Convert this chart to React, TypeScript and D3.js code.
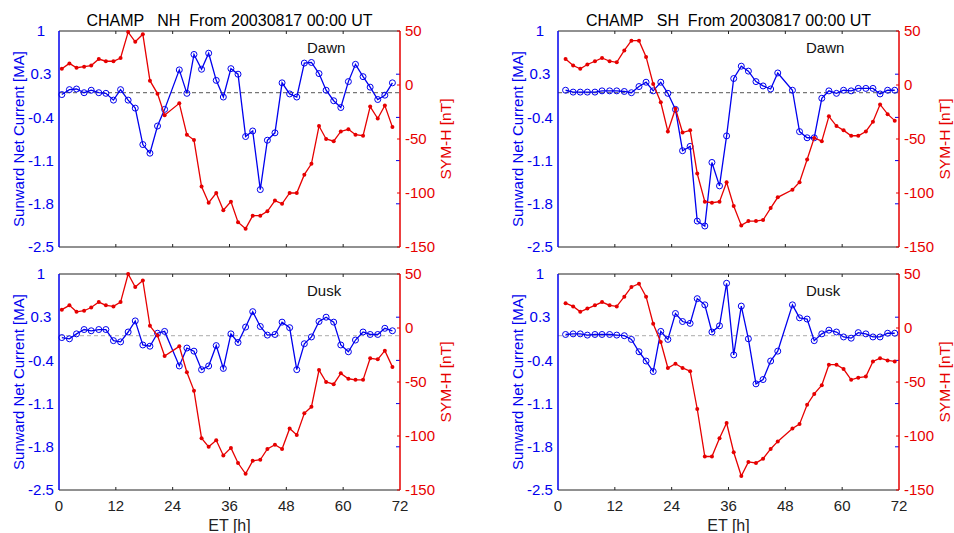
import React from "react";
import * as d3 from "d3";

// orbit times (hours after 2003-08-17 00:00 UT), one gap each hemisphere
const nhTime = [0.6, 2.2, 3.7, 5.3, 6.8, 8.4, 9.9, 11.5, 13.0, 14.6, 16.1, 17.7, 19.2, 20.8, 22.3, 25.4, 27.0, 28.5, 30.1, 31.6, 33.2, 34.7, 36.3, 37.8, 39.4, 40.9, 42.5, 44.0, 45.6, 47.1, 48.7, 50.2, 51.8, 53.3, 54.9, 56.4, 58.0, 59.5, 61.1, 62.6, 64.2, 65.7, 67.3, 68.8, 70.4];
const shTime = [1.6, 3.2, 4.7, 6.2, 7.8, 9.3, 10.9, 12.4, 14.0, 15.5, 17.1, 18.6, 20.1, 21.7, 23.2, 24.8, 26.3, 27.9, 29.4, 31.0, 32.5, 34.1, 35.6, 37.1, 38.7, 40.2, 41.8, 43.3, 44.9, 46.4, 49.5, 51.0, 52.6, 54.1, 55.7, 57.2, 58.8, 60.3, 61.9, 63.4, 65.0, 66.5, 68.0, 69.6, 71.1];

const nhDawnCurrent = [-0.03, 0.05, 0.06, 0.0, 0.04, 0.0, -0.01, -0.12, 0.05, -0.12, -0.25, -0.84, -0.98, -0.54, -0.27, 0.37, -0.01, 0.62, 0.38, 0.64, 0.2, -0.07, 0.39, 0.3, -0.71, -0.62, -1.57, -0.77, -0.65, 0.16, -0.02, -0.07, 0.48, 0.49, 0.31, 0.04, -0.13, -0.24, 0.18, 0.46, 0.26, 0.09, -0.11, -0.04, 0.16];
const nhDawnSymH = [15, 20, 16, 17, 18, 24, 22, 22, 25, 49, 40, 47, 4, -8, -28, -17, -46, -51, -94, -109, -100, -116, -108, -127, -133, -121, -121, -117, -107, -110, -100, -100, -83, -73, -38, -50, -52, -43, -41, -46, -47, -20, -31, -19, -39];

const nhDuskCurrent = [-0.03, -0.05, 0.03, 0.1, 0.08, 0.1, 0.1, -0.08, -0.1, 0.06, 0.24, -0.15, -0.17, 0.04, 0.07, -0.49, -0.2, -0.25, -0.55, -0.49, -0.16, -0.53, 0.03, -0.11, 0.14, 0.39, 0.15, 0.01, 0.02, 0.22, 0.13, -0.55, -0.13, -0.02, 0.23, 0.3, 0.22, -0.15, -0.26, -0.07, 0.06, 0.02, 0.02, 0.12, 0.08];
const nhDuskSymH = [17, 21, 15, 16, 19, 24, 21, 20, 24, 50, 38, 44, 2, -7, -26, -17, -41, -58, -102, -110, -104, -118, -111, -125, -135, -123, -122, -112, -108, -112, -93, -99, -79, -73, -39, -50, -52, -42, -47, -48, -48, -28, -29, -21, -36];

const shDawnCurrent = [0.04, 0.01, 0.01, 0.01, 0.01, 0.03, 0.03, 0.03, 0.02, 0.0, 0.1, 0.17, 0.03, 0.17, -0.01, -0.27, -0.94, -0.87, -2.08, -2.16, -1.13, -1.51, -0.7, 0.23, 0.43, 0.35, 0.18, 0.11, 0.06, 0.32, 0.04, -0.63, -0.73, -0.73, -0.09, 0.03, -0.01, 0.04, 0.03, 0.07, 0.07, 0.07, -0.02, 0.04, 0.04];
const shDawnSymH = [24, 18, 15, 19, 22, 25, 22, 21, 32, 41, 41, 26, 1, -16, -43, -22, -44, -42, -82, -108, -109, -108, -90, -112, -130, -126, -126, -125, -114, -104, -97, -90, -69, -49, -52, -29, -38, -42, -47, -47, -43, -34, -18, -27, -33];

const shDuskCurrent = [0.02, 0.03, 0.03, 0.01, 0.02, 0.02, 0.02, 0.01, 0.0, -0.06, -0.26, -0.41, -0.58, 0.07, -0.06, 0.36, 0.23, 0.2, 0.6, 0.5, 0.06, 0.16, 0.85, -0.31, 0.48, -0.05, -0.78, -0.71, -0.41, -0.25, 0.5, 0.29, 0.27, -0.08, 0.03, 0.09, 0.06, -0.02, -0.04, 0.05, 0.03, -0.02, -0.02, 0.04, 0.04];
const shDuskSymH = [23, 20, 15, 18, 21, 24, 21, 20, 29, 38, 41, 29, 4, -13, -37, -33, -37, -40, -75, -119, -119, -102, -88, -115, -137, -124, -125, -121, -112, -105, -93, -89, -71, -61, -53, -34, -34, -38, -48, -46, -45, -31, -28, -30, -31];

const currentTicks = [1, 0.3, -0.4, -1.1, -1.8, -2.5];
const symhTicks = [50, 0, -50, -100, -150];
const etTicks = [0, 12, 24, 36, 48, 60, 72];

const BLUE = "#0000ee";
const RED = "#e60000";
const FONT = "'Liberation Sans', Arial, sans-serif";

type PanelProps = {
  time: number[];
  current: number[];
  symh: number[];
  x0: number;
  x1: number;
  y0: number;
  y1: number;
  title?: string;
  tag: string;
  bottom: boolean;
};

function Panel({ time, current, symh, x0, x1, y0, y1, title, tag, bottom }: PanelProps) {
  const x = d3.scaleLinear().domain([0, 72]).range([x0, x1]);
  const yc = d3.scaleLinear().domain([-2.5, 1]).range([y1, y0]);
  const ys = d3.scaleLinear().domain([-150, 50]).range([y1, y0]);

  const cur = time.map((t, i) => [t, current[i]] as [number, number]);
  const sym = time.map((t, i) => [t, symh[i]] as [number, number]);

  const lineC = d3.line<[number, number]>().x((d) => x(d[0])).y((d) => yc(d[1]));
  const lineS = d3.line<[number, number]>().x((d) => x(d[0])).y((d) => ys(d[1]));

  const midX = (x0 + x1) / 2;
  const midY = (y0 + y1) / 2;

  return (
    <g fontFamily={FONT} fontSize={15}>
      {title && (
        <text x={midX} y={26} fontSize={16} textAnchor="middle" fill="#000" style={{ whiteSpace: "pre" }}>
          {title}
        </text>
      )}

      {/* zero line */}
      <line
        x1={x0}
        x2={x1}
        y1={yc(0)}
        y2={yc(0)}
        stroke={bottom ? "#aaaaaa" : "#555555"}
        strokeWidth={1}
        strokeDasharray="4,3"
      />

      {/* frame */}
      <line x1={x0} x2={x1} y1={y0} y2={y0} stroke="#222" strokeWidth={1} />
      <line x1={x0} x2={x1} y1={y1} y2={y1} stroke="#222" strokeWidth={1} />
      {etTicks.slice(1, -1).map((t) => (
        <g key={t}>
          <line x1={x(t)} x2={x(t)} y1={y0} y2={y0 + 3} stroke="#222" />
          <line x1={x(t)} x2={x(t)} y1={y1} y2={y1 - 3} stroke="#222" />
        </g>
      ))}
      {currentTicks.slice(1, -1).map((v) => (
        <line key={v} x1={x1 - 4} x2={x1} y1={yc(v)} y2={yc(v)} stroke={BLUE} />
      ))}
      {symhTicks.map((v) => (
        <line key={v} x1={x1 - 3} x2={x1} y1={ys(v)} y2={ys(v)} stroke={RED} />
      ))}
      <line x1={x0} x2={x0} y1={y0} y2={y1} stroke={BLUE} strokeWidth={1.5} />
      <line x1={x1} x2={x1} y1={y0} y2={y1} stroke={RED} strokeWidth={1.5} />

      {/* left axis labels */}
      {currentTicks.map((v) => (
        <text key={v} x={x0 - 18} y={yc(v)} dy="0.35em" textAnchor="middle" fill={BLUE}>
          {String(v)}
        </text>
      ))}
      {/* right axis labels */}
      {symhTicks.map((v) => (
        <text key={v} x={x1 + 5} y={ys(v)} dy="0.35em" textAnchor="start" fill={RED}>
          {String(v)}
        </text>
      ))}
      {bottom &&
        etTicks.map((t) => (
          <text key={t} x={x(t)} y={y1 + 21} textAnchor="middle" fill="#222">
            {String(t)}
          </text>
        ))}
      {bottom && (
        <text x={midX} y={y1 + 41} fontSize={16} textAnchor="middle" fill="#222">
          ET [h]
        </text>
      )}

      <text transform={`translate(${x0 - 35},${midY}) rotate(-90)`} textAnchor="middle" fill={BLUE}>
        Sunward Net Current [MA]
      </text>
      <text transform={`translate(${x1 + 50.5},${midY}) rotate(-90)`} fontSize={15.5} textAnchor="middle" fill={RED}>
        SYM-H [nT]
      </text>

      <text x={x0 + 248} y={y0 + 22} fill="#111">
        {tag}
      </text>

      {/* current */}
      <path d={lineC(cur) ?? ""} fill="none" stroke={BLUE} strokeWidth={1.3} />
      {cur.map((d, i) => (
        <circle key={i} cx={x(d[0])} cy={yc(d[1])} r={3} fill="none" stroke={BLUE} strokeWidth={1} />
      ))}

      {/* SYM-H */}
      <path d={lineS(sym) ?? ""} fill="none" stroke={RED} strokeWidth={1.3} />
      {sym.map((d, i) => (
        <circle key={i} cx={x(d[0])} cy={ys(d[1])} r={2} fill={RED} />
      ))}
    </g>
  );
}

export default function App() {
  return (
    <svg width={954} height={533} style={{ position: "absolute", left: 0, top: 0, background: "#fff" }}>
      <Panel time={nhTime} current={nhDawnCurrent} symh={nhDawnSymH} x0={59} x1={400} y0={31} y1={247}
        title="CHAMP   NH  From 20030817 00:00 UT" tag="Dawn" bottom={false} />
      <Panel time={nhTime} current={nhDuskCurrent} symh={nhDuskSymH} x0={59} x1={400} y0={274} y1={490}
        tag="Dusk" bottom={true} />
      <Panel time={shTime} current={shDawnCurrent} symh={shDawnSymH} x0={558} x1={899} y0={31} y1={247}
        title="CHAMP   SH  From 20030817 00:00 UT" tag="Dawn" bottom={false} />
      <Panel time={shTime} current={shDuskCurrent} symh={shDuskSymH} x0={558} x1={899} y0={274} y1={490}
        tag="Dusk" bottom={true} />
    </svg>
  );
}
